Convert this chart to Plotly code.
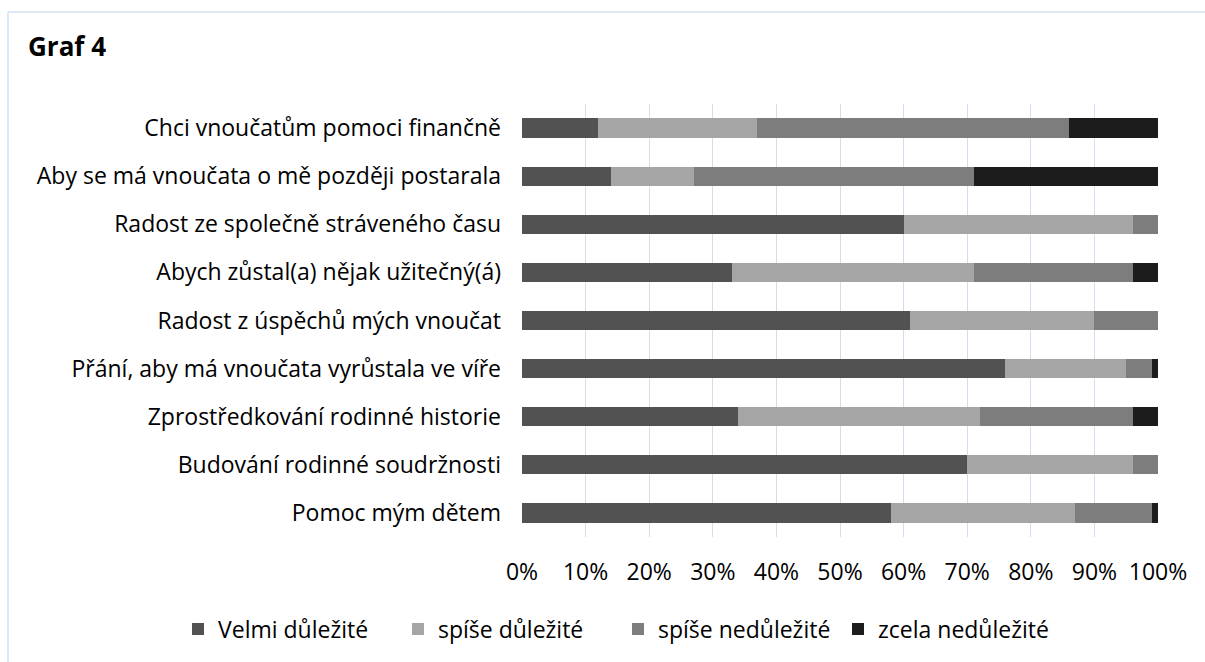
import plotly.graph_objects as go

categories = [
    "Chci vnoučatům pomoci finančně",
    "Aby se má vnoučata o mě později postarala",
    "Radost ze společně stráveného času",
    "Abych zůstal(a) nějak užitečný(á)",
    "Radost z úspěchů mých vnoučat",
    "Přání, aby má vnoučata vyrůstala ve víře",
    "Zprostředkování rodinné historie",
    "Budování rodinné soudržnosti",
    "Pomoc mým dětem",
]

velmi_dulezite = [12, 14, 60, 33, 61, 76, 34, 70, 58]
spise_dulezite = [25, 13, 36, 38, 29, 19, 38, 26, 29]
spise_nedulezite = [49, 44, 4, 25, 10, 4, 24, 4, 12]
zcela_nedulezite = [14, 29, 0, 4, 0, 1, 4, 0, 1]

tick_vals = [0, 10, 20, 30, 40, 50, 60, 70, 80, 90, 100]
tick_text = ["0%", "10%", "20%", "30%", "40%", "50%", "60%", "70%", "80%", "90%", "100%"]

series = [
    ("Velmi důležité", velmi_dulezite, "#525252"),
    ("spíše důležité", spise_dulezite, "#a5a5a5"),
    ("spíše nedůležité", spise_nedulezite, "#7d7d7d"),
    ("zcela nedůležité", zcela_nedulezite, "#1c1c1c"),
]

fig = go.Figure()
for name, vals, color in series:
    fig.add_trace(go.Bar(
        y=categories, x=vals, name=name, orientation="h",
        marker=dict(color=color, line=dict(width=0)),
    ))

W, H = 1205, 662
L, R, T, B = 522, 47, 104, 125


def px_x(p):
    return (p - L) / (W - L - R)


def px_y(p):
    return (H - B - p) / (H - T - B)


border = "#d5e2f1"
fig.add_shape(type="line", xref="paper", yref="paper",
              x0=px_x(8), x1=px_x(W), y0=px_y(12), y1=px_y(12),
              line=dict(color=border, width=1.5))
fig.add_shape(type="line", xref="paper", yref="paper",
              x0=px_x(8), x1=px_x(8), y0=px_y(12), y1=px_y(H),
              line=dict(color=border, width=1.5))

fig.add_annotation(text="<b>Graf 4</b>", xref="paper", yref="paper",
                   x=px_x(26), y=px_y(46), xanchor="left", yanchor="middle",
                   showarrow=False, font=dict(size=26, color="black"))

fig.update_layout(
    width=W, height=H,
    barmode="stack", bargap=0.6,
    margin=dict(l=L, r=R, t=T, b=B),
    paper_bgcolor="white", plot_bgcolor="white",
    font=dict(family="Open Sans, sans-serif", size=23, color="black"),
    legend=dict(orientation="h", xref="paper", yref="paper",
                x=px_x(178), y=px_y(629), xanchor="left", yanchor="middle",
                traceorder="normal", font=dict(size=23), itemwidth=30,
                entrywidth=175, entrywidthmode="pixels"),
)
fig.update_xaxes(range=[0, 100], tickvals=tick_vals, ticktext=tick_text,
                 showgrid=True, gridcolor="#d0def0", gridwidth=1,
                 zeroline=False, showline=False, ticklabelstandoff=19,
                 fixedrange=True)
fig.update_yaxes(autorange="reversed", showgrid=False, ticklabelstandoff=20,
                 showline=False, fixedrange=True)

fig.write_html("out.html", config={"displayModeBar": False},
               post_script="document.body.style.margin='0';")
